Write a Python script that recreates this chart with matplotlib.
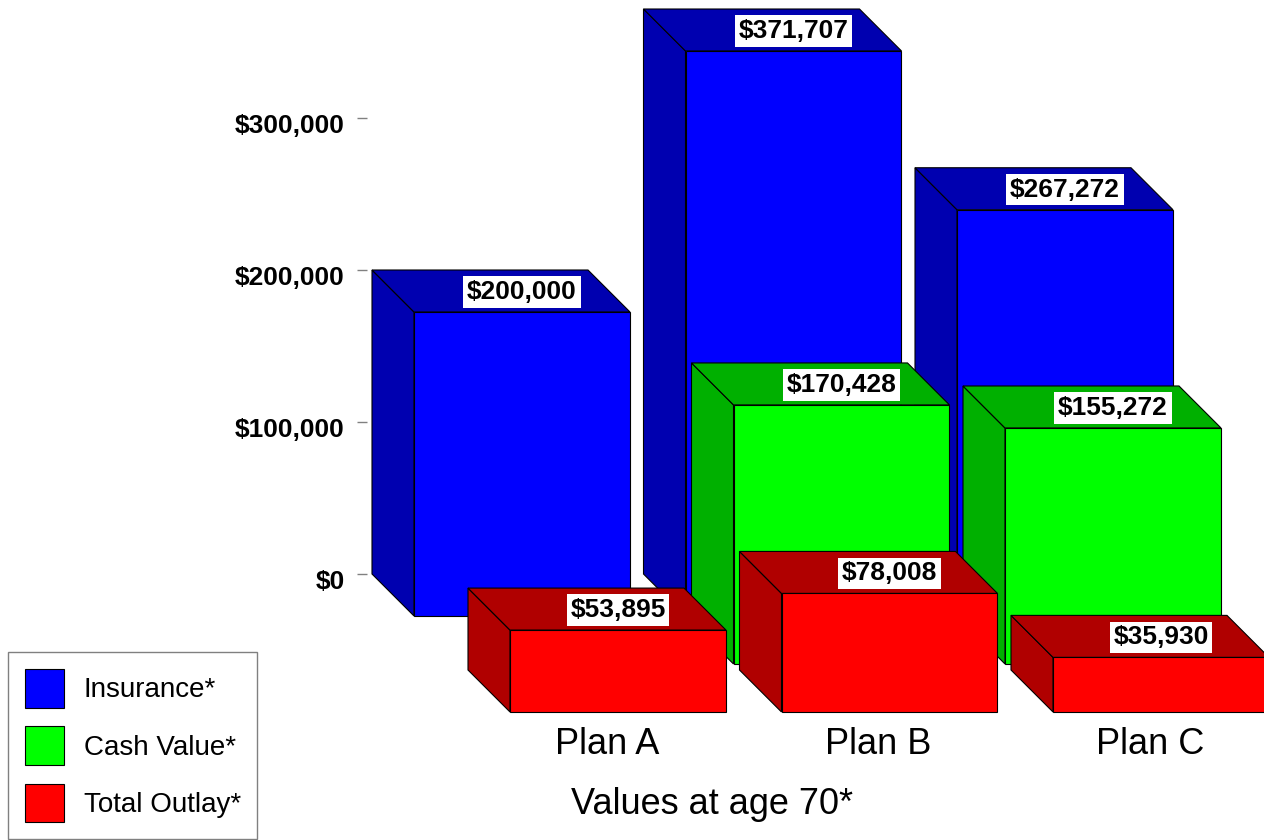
import matplotlib.pyplot as plt
from matplotlib.patches import Polygon, Patch
from matplotlib.transforms import ScaledTranslation

plans = ['Plan A', 'Plan B', 'Plan C']
series = ['Insurance*', 'Cash Value*', 'Total Outlay*']
insurance = [200000, 371707, 267272]
cash_value = [None, 170428, 155272]   # Plan A has no cash value
total_outlay = [53895, 78008, 35930]
yticks = [0, 100000, 200000, 300000]

front_colors = ['#0000ff', '#00ff00', '#ff0000']
shade_colors = ['#0000b0', '#00b000', '#b00000']

plt.rcParams['font.family'] = ['Liberation Sans', 'DejaVu Sans']

W, H = 1264, 840
fig = plt.figure(figsize=(W / 100, H / 100), dpi=100)
ax = fig.add_axes([367 / W, 0, 1 - 367 / W, 1])

# pixel scales: one plan per 271.5 px, 152 px per $100k
px_x = 271.5
px_y = 0.00152
ax.set_xlim(-5 / px_x, (W - 367 - 5) / px_x)
ax.set_ylim(-266 / px_y, (H - 266) / px_y)


def dx(p):
    return p / px_x


def dy(p):
    return p / px_y


bar_w = 216     # face width, px
depth = 42      # oblique depth, px
row_step = 48   # shift between series rows, px

for r, vals in enumerate([insurance, cash_value, total_outlay]):
    for i, v in enumerate(vals):
        if v is None:
            continue
        x0 = i + dx(row_step * r)
        y0 = -dy(row_step * r)
        x1 = x0 + dx(bar_w)
        y1 = y0 + v
        fx, fy = dx(depth), -dy(depth)
        top = [(x0, y1), (x1, y1), (x1 + fx, y1 + fy), (x0 + fx, y1 + fy)]
        side = [(x0, y0), (x0, y1), (x0 + fx, y1 + fy), (x0 + fx, y0 + fy)]
        front = [(x0 + fx, y0 + fy), (x1 + fx, y0 + fy),
                 (x1 + fx, y1 + fy), (x0 + fx, y1 + fy)]
        for pts, col in [(side, shade_colors[r]), (top, shade_colors[r]),
                         (front, front_colors[r])]:
            ax.add_patch(Polygon(pts, closed=True, facecolor=col,
                                 edgecolor='black', lw=0.8, zorder=2))
        ax.text(x0 + fx + dx(bar_w / 2), y1 + fy / 2 - dy(1), f'${v:,.0f}',
                ha='center', va='center', fontsize=19, fontweight='bold',
                zorder=5,
                bbox=dict(boxstyle='square,pad=0.14', facecolor='white',
                          edgecolor='none'))

for i, name in enumerate(plans):
    ax.text(i + dx(235), -dy(170), name, ha='center', va='center',
            fontsize=26)

fig.text(712 / W, 1 - 804 / H, 'Values at age 70*', ha='center',
         va='center', fontsize=26)

ax.set_yticks(yticks, labels=[f'${v:,}' for v in yticks])
ax.tick_params(axis='y', length=7, width=1, color='#808080', pad=9,
               labelsize=19)
# tick labels sit a little below their tick marks
shift = ScaledTranslation(0, -4 / 72, fig.dpi_scale_trans)
for lbl in ax.get_yticklabels():
    lbl.set_fontweight('bold')
    lbl.set_transform(lbl.get_transform() + shift)
ax.set_xticks([])
for s in ax.spines.values():
    s.set_visible(False)

handles = [Patch(facecolor=front_colors[k], edgecolor='black', lw=0.8,
                 label=series[k]) for k in range(3)]
leg = fig.legend(handles=handles, loc='upper left',
                 bbox_to_anchor=(8 / W, 1 - 652 / H), fontsize=20,
                 frameon=True, fancybox=False, edgecolor='#808080',
                 framealpha=1, handlelength=1.4, handleheight=1.78,
                 labelspacing=0.665, handletextpad=0.72, borderpad=0.6,
                 borderaxespad=0)
leg.get_frame().set_linewidth(1)

fig.savefig('out.png', dpi=100)
